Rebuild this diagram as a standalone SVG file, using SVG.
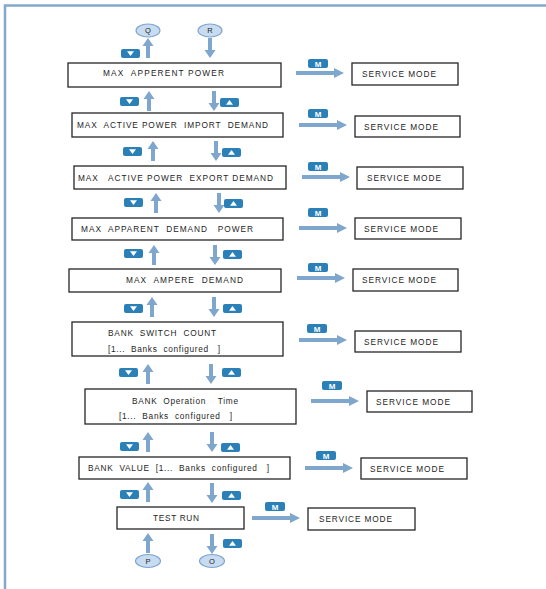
<svg xmlns="http://www.w3.org/2000/svg" width="546" height="589" viewBox="0 0 546 589" xml:space="preserve">
<style>
.box{fill:#fff;stroke:#262626;stroke-width:1.3}
.t{font-family:"Liberation Sans",Arial,sans-serif;font-size:8.3px;fill:#1e1e1e;white-space:pre}
.ct{font-family:"Liberation Sans",Arial,sans-serif;font-size:7.5px;fill:#222;text-anchor:middle}
.key{fill:#c7dcf1;stroke:#7fa3cb;stroke-width:1.1}
.arr{fill:#7fa6cc}
.badge{fill:#2b80b7}
.mt{font-family:"Liberation Sans",Arial,sans-serif;font-size:8px;font-weight:bold;fill:#fff;text-anchor:middle}
</style>
<defs>
<path id="up" class="arr" d="M0,0 L5.5,8 L2,8 L2,20 L-2,20 L-2,8 L-5.5,8 Z"/>
<path id="dn" class="arr" d="M0,0 L5.5,-8 L2,-8 L2,-20 L-2,-20 L-2,-8 L-5.5,-8 Z"/>
<path id="rt" class="arr" d="M0,0 L-10,-5 L-10,-2 L-48,-2 L-48,2 L-10,2 L-10,5 Z"/>
<g id="bdn"><rect class="badge" width="19" height="9" rx="2"/><path d="M6,2.2 H13 L9.5,7 Z" fill="#fff"/></g>
<g id="bup"><rect class="badge" width="19" height="9" rx="2"/><path d="M6,6.8 H13 L9.5,2 Z" fill="#fff"/></g>
<g id="mb"><rect class="badge" width="20" height="9" rx="2"/><text class="mt" x="10" y="7.6">M</text></g>
</defs>
<rect width="546" height="589" fill="#fff"/>
<path d="M5,589 V5.5 H546" fill="none" stroke="#82a8cc" stroke-width="2.5"/>

<g id="connectors">
<use href="#up" x="148" y="38"/><use href="#dn" x="210" y="58"/><use href="#bdn" x="121" y="49"/>
<use href="#up" x="149" y="91"/><use href="#dn" x="214" y="111"/><use href="#bdn" x="120" y="97"/><use href="#bup" x="220" y="98"/>
<use href="#up" x="153" y="141"/><use href="#dn" x="216" y="161"/><use href="#bdn" x="123" y="147"/><use href="#bup" x="222" y="148"/>
<use href="#up" x="156" y="193"/><use href="#dn" x="219" y="213"/><use href="#bdn" x="124" y="198"/><use href="#bup" x="224" y="199"/>
<use href="#up" x="154" y="245"/><use href="#dn" x="215" y="265"/><use href="#bdn" x="124" y="249"/><use href="#bup" x="223" y="250"/>
<use href="#up" x="152" y="297"/><use href="#dn" x="214" y="317"/><use href="#bdn" x="124" y="304"/><use href="#bup" x="223" y="304"/>
<use href="#up" x="148" y="364"/><use href="#dn" x="211" y="384"/><use href="#bdn" x="119" y="368"/><use href="#bup" x="222" y="368"/>
<use href="#up" x="148" y="432"/><use href="#dn" x="212" y="452"/><use href="#bdn" x="120" y="442"/><use href="#bup" x="221" y="443"/>
<use href="#up" x="148" y="482"/><use href="#dn" x="212" y="503"/><use href="#bdn" x="120" y="490"/><use href="#bup" x="222" y="491"/>
<use href="#up" x="148" y="533"/><use href="#dn" x="212" y="554"/><use href="#bup" x="223" y="539"/>

<use href="#rt" x="344" y="73"/><use href="#mb" x="308" y="59"/>
<use href="#rt" x="347" y="125"/><use href="#mb" x="308" y="109"/>
<use href="#rt" x="350" y="177"/><use href="#mb" x="308" y="162"/>
<use href="#rt" x="347" y="228"/><use href="#mb" x="308" y="208"/>
<use href="#rt" x="345" y="278"/><use href="#mb" x="308" y="263"/>
<use href="#rt" x="347" y="340"/><use href="#mb" x="307" y="324"/>
<use href="#rt" x="359" y="401"/><use href="#mb" x="322" y="381"/>
<use href="#rt" x="353" y="468"/><use href="#mb" x="316" y="451"/>
<use href="#rt" x="300" y="518"/><use href="#mb" x="265" y="502"/>
</g>

<g id="Q"><ellipse class="key" cx="148" cy="30.5" rx="12" ry="6.5"/><text class="ct" x="148" y="33.3">Q</text></g>
<g id="R"><ellipse class="key" cx="210" cy="30.5" rx="12" ry="6.5"/><text class="ct" x="210" y="33.3">R</text></g>
<g id="P"><ellipse class="key" cx="148" cy="561" rx="12.5" ry="6.5"/><text class="ct" x="148" y="563.8">P</text></g>
<g id="O"><ellipse class="key" cx="212" cy="561" rx="12.5" ry="6.5"/><text class="ct" x="212" y="563.8">O</text></g>

<g id="n1"><rect class="box" x="68" y="63" width="213" height="24"/><text class="t" x="103" y="76" textLength="121" lengthAdjust="spacing">MAX  APPERENT POWER</text></g>
<g id="n2"><rect class="box" x="72" y="113" width="211" height="24"/><text class="t" x="77" y="128" textLength="191" lengthAdjust="spacing">MAX  ACTIVE POWER  IMPORT  DEMAND</text></g>
<g id="n3"><rect class="box" x="74" y="166" width="212" height="23"/><text class="t" x="78" y="181" textLength="195" lengthAdjust="spacing">MAX   ACTIVE POWER  EXPORT DEMAND</text></g>
<g id="n4"><rect class="box" x="72" y="218" width="211" height="22"/><text class="t" x="81" y="232" textLength="172" lengthAdjust="spacing">MAX  APPARENT  DEMAND   POWER</text></g>
<g id="n5"><rect class="box" x="69" y="269" width="212" height="23"/><text class="t" x="126" y="283" textLength="117" lengthAdjust="spacing">MAX  AMPERE  DEMAND</text></g>
<g id="n6"><rect class="box" x="72" y="322" width="211" height="34"/><text class="t" x="108" y="336" textLength="108" lengthAdjust="spacing">BANK  SWITCH  COUNT</text><text class="t" x="108" y="352" textLength="112" lengthAdjust="spacing">[1...  Banks  configured   ]</text></g>
<g id="n7"><rect class="box" x="85" y="389" width="211" height="35"/><text class="t" x="132" y="404" textLength="106" lengthAdjust="spacing">BANK  Operation    Time</text><text class="t" x="119" y="419" textLength="113" lengthAdjust="spacing">[1...  Banks  configured   ]</text></g>
<g id="n8"><rect class="box" x="79" y="457" width="211" height="22"/><text class="t" x="88" y="471" textLength="181" lengthAdjust="spacing">BANK  VALUE  [1...  Banks  configured   ]</text></g>
<g id="n9"><rect class="box" x="117" y="507" width="127" height="22"/><text class="t" x="153" y="521" textLength="46" lengthAdjust="spacing">TEST RUN</text></g>

<g id="s1"><rect class="box" x="352" y="63" width="106" height="22"/><text class="t" x="362" y="77" textLength="74" lengthAdjust="spacing">SERVICE MODE</text></g>
<g id="s2"><rect class="box" x="355" y="116" width="105" height="21"/><text class="t" x="364" y="129.5" textLength="74" lengthAdjust="spacing">SERVICE MODE</text></g>
<g id="s3"><rect class="box" x="357" y="167" width="106" height="22"/><text class="t" x="367" y="181" textLength="74" lengthAdjust="spacing">SERVICE MODE</text></g>
<g id="s4"><rect class="box" x="355" y="218" width="106" height="21"/><text class="t" x="364" y="231.5" textLength="74" lengthAdjust="spacing">SERVICE MODE</text></g>
<g id="s5"><rect class="box" x="353" y="269" width="105" height="22"/><text class="t" x="362" y="283" textLength="74" lengthAdjust="spacing">SERVICE MODE</text></g>
<g id="s6"><rect class="box" x="355" y="331" width="106" height="21"/><text class="t" x="364" y="344.5" textLength="74" lengthAdjust="spacing">SERVICE MODE</text></g>
<g id="s7"><rect class="box" x="367" y="391" width="105" height="21"/><text class="t" x="376" y="404.5" textLength="74" lengthAdjust="spacing">SERVICE MODE</text></g>
<g id="s8"><rect class="box" x="361" y="458" width="106" height="21"/><text class="t" x="370" y="471.5" textLength="74" lengthAdjust="spacing">SERVICE MODE</text></g>
<g id="s9"><rect class="box" x="308" y="508" width="107" height="22"/><text class="t" x="319" y="522" textLength="73" lengthAdjust="spacing">SERVICE MODE</text></g>
</svg>
